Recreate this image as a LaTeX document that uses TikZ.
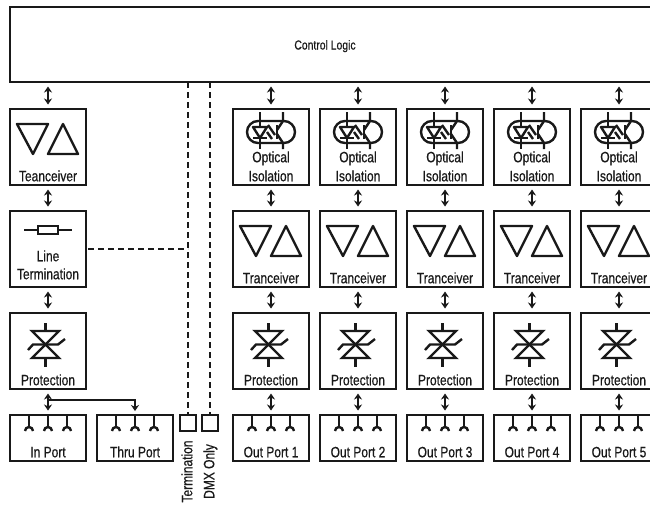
\documentclass[tikz,border=0pt]{standalone}
\usepackage{fontspec}
\setmainfont[FakeStretch=0.8,FakeBold=0.6]{Liberation Sans}
\usetikzlibrary{arrows.meta}
\tikzset{
  x=1pt,y=-1pt,
  ink/.style={draw=black!90,line width=2.4},
  box/.style={ink,rectangle,outer sep=0,minimum width=76,minimum height=76,inner sep=0},
  portbox/.style={ink,rectangle,outer sep=0,minimum width=76,minimum height=46,inner sep=0},
  jack/.style={ink,rectangle,outer sep=0,minimum size=16,inner sep=0},
  lbl/.style={font=\fontsize{15}{15}\selectfont,text=black!90,inner sep=0,text height=10.5,text depth=0},
  smalllbl/.style={font=\fontsize{13}{13}\selectfont,text=black!90,inner sep=0,text height=9,text depth=0},
  sidelbl/.style={lbl,rotate=90},
  dbl/.style={draw=black!90,line width=2.4,{Stealth[length=6,width=8]}-{Stealth[length=6,width=8]},shorten >=4.5,shorten <=4.5},
  sgl/.style={draw=black!90,line width=2.4,-{Stealth[length=6,width=8]}},
  bus/.style={draw=black!90,line width=2.4,dash pattern=on 6 off 4},
  pics/tcv/.style={code={
    \draw[ink,line join=round] (-31,-23) -- (0,-23) -- (-15,7) -- cycle;
    \draw[ink,line join=round] (0,7) -- (30,7) -- (15,-23) -- cycle;
  }},
  pics/resist/.style={code={
    \draw[ink] (-24,-19) -- (24,-19);
    \draw[ink,fill=white] (-10,-23) rectangle (10,-15);
  }},
  pics/tvs/.style={code={
    \draw[ink] (-2.5,-28) -- (-2.5,-20) (-2.5,7) -- (-2.5,16);
    \draw[ink] (-16,-20) -- (11,-20) -- (-16,7) -- (11,7) -- cycle;
    \draw[ink] (-20,-1) -- (-15,-6.5) -- (10,-6.5) -- (17,-12);
  }},
  pics/opto/.style={code={
    \draw[ink] (-13,-26) -- (13,-26) arc (-90:90:11) -- (-13,-4) arc (90:270:11) -- cycle;
    \draw[ink] (-11,-35) -- (-11,-20) (-11,-9) -- (-11,2);
    \draw[ink,line join=round] (-18,-20) -- (-4,-20) -- (-11,-9) -- cycle;
    \draw[ink] (-18,-9) -- (-4,-9);
    \draw[ink] (6,-22) -- (6,-8);
    \draw[ink] (12,-35) -- (12,-26) -- (6,-17) (6,-13) -- (12,-4) -- (12,2);
    \draw[ink] (-3,-22) -- (4,-12) (-4,-15) -- (1,-8);
  }},
  pics/pins/.style={code={
    \foreach \p in {-19,0,19}{
      \draw[ink] (\p,-23) -- (\p,-11);
      \draw[ink] (\p-4,-7) arc (180:360:4);
    }
  }},
}
\begin{document}
\begin{tikzpicture}
\useasboundingbox (0,0) rectangle (650,507);
\begin{scope}
\clip (0,0) rectangle (650,507);
% control logic
\node[ink,rectangle,outer sep=0,minimum width=660,minimum height=75,inner sep=0] (ctl) at (340,44.5) {};
\node[smalllbl] (ctltxt) at (325,45) {Control Logic};
% left column
\node[box] (rx) at (48,147) {};
\pic at (48,147) {tcv};
\node[lbl] (rxtxt) at (48,176) {Teanceiver};
\node[box] (term) at (48,249) {};
\pic at (48,249) {resist};
\node[lbl] (termtxt1) at (48,256) {Line};
\node[lbl] (termtxt2) at (48,274) {Termination};
\node[box] (prot) at (48,351) {};
\pic at (48,351) {tvs};
\node[lbl] (prottxt) at (48,380) {Protection};
\node[portbox] (inp) at (48,438) {};
\pic at (48,438) {pins};
\node[lbl] (intxt) at (48,452) {In Port};
\node[portbox] (thru) at (135,438) {};
\pic at (135,438) {pins};
\node[lbl] (thrutxt) at (135,452) {Thru Port};
\draw[dbl] (ctl.south -| rx.north) -- (rx.north);
\draw[dbl] (rx) -- (term);
\draw[dbl] (term) -- (prot);
\draw[dbl] (prot) -- (inp);
\coordinate (tee) at (48,400);
\draw[sgl,shorten >=4] (tee) -| (thru.north);
% jacks
\node[jack] (jt) at (188,423) {};
\node[jack] (jd) at (210,423) {};
\node[sidelbl] (jttxt) at (187,471.5) {Termination};
\node[sidelbl] (jdtxt) at (209,471.5) {DMX Only};
\draw[bus] (ctl.south -| jt.north) -- (jt.north);
\draw[bus] (ctl.south -| jd.north) -- (jd.north);
\path (term.east |- 0,249) ++(2,0) coordinate (ds);
\draw[bus] (ds) -- (ds -| jt.north);
% output columns
\foreach \i/\x in {1/271,2/358,3/445,4/532,5/619}{
  \node[box] (opt\i) at (\x,147) {};
  \pic at (\x,147) {opto};
  \node[lbl] (opta\i) at (\x,157) {Optical};
  \node[lbl] (optb\i) at (\x,176) {Isolation};
  \node[box] (trc\i) at (\x,249) {};
  \pic at (\x,249) {tcv};
  \node[lbl] (trct\i) at (\x,278) {Tranceiver};
  \node[box] (pro\i) at (\x,351) {};
  \pic at (\x,351) {tvs};
  \node[lbl] (prot\i) at (\x,380) {Protection};
  \node[portbox] (out\i) at (\x,438) {};
  \pic at (\x,438) {pins};
  \node[lbl] (outt\i) at (\x,452) {Out Port \i};
  \draw[dbl] (ctl.south -| opt\i.north) -- (opt\i.north);
  \draw[dbl] (opt\i) -- (trc\i);
  \draw[dbl] (trc\i) -- (pro\i);
  \draw[dbl] (pro\i) -- (out\i);
}
\end{scope}
\end{tikzpicture}
\end{document}
